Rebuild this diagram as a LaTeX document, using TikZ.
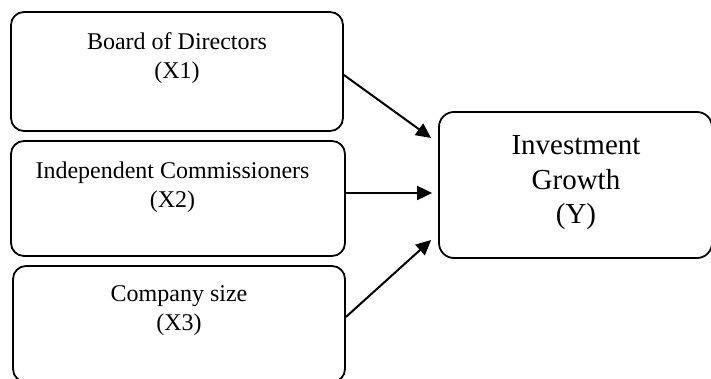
\documentclass[tikz,border=0pt]{standalone}
\usepackage{fontspec}
\setmainfont{Liberation Serif}
\usetikzlibrary{arrows.meta}
\begin{document}
\begin{tikzpicture}[x=1pt,y=-1pt,
  box/.style={draw=black, line width=1.8pt, rounded corners=13pt, inner sep=0pt},
  lbl/.style={align=center, inner sep=0pt, font=\fontsize{24}{29}\selectfont},
  ylbl/.style={align=center, inner sep=0pt, font=\fontsize{29}{34.5}\selectfont},
  arr/.style={line width=2pt, -{Triangle[length=15pt,width=14pt]}}]
\useasboundingbox (0,0) rectangle (711,379);
\node[box, minimum width=332pt, minimum height=119pt] (b1) at (177,71.5) {};
\node[box, minimum width=334pt, minimum height=115pt] (b2) at (178,198.5) {};
\node[box, minimum width=332pt, minimum height=116pt] (b3) at (179,324) {};
\node[box, rounded corners=15pt, minimum width=273pt, minimum height=146pt] (y) at (575.5,185) {};
\node[lbl] (t1) at (177,58.5) {Board of Directors\\(X1)};
\node[lbl] (t2) at (172.5,187.5) {Independent Commissioners\\(X2)};
\node[lbl] (t3) at (179,310.5) {Company size\\(X3)};
\node[ylbl] (ty) at (576,183) {Investment\\Growth\\(Y)};
\draw[arr] ([yshift=-3.5pt]b1.east) -- ([xshift=-7pt,yshift=47pt]y.west);
\draw[arr] ([yshift=5.5pt]b2.east) -- ([xshift=-6pt,yshift=-8pt]y.west);
\draw[arr] ([yshift=7pt]b3.east) -- ([xshift=-7pt,yshift=-55pt]y.west);
\end{tikzpicture}
\end{document}
